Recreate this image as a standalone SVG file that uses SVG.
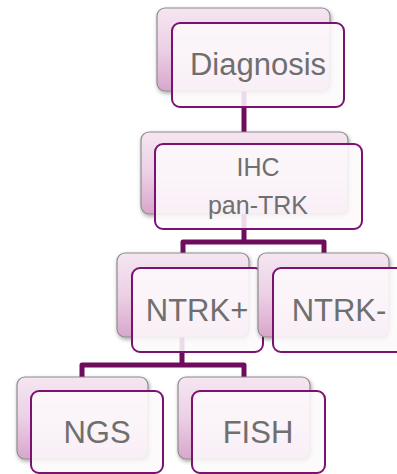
<svg xmlns="http://www.w3.org/2000/svg" width="397" height="474" viewBox="0 0 397 474">
<defs>
<linearGradient id="bg" x1="0" y1="0" x2="0" y2="1">
<stop offset="0" stop-color="#f5e6f1"/>
<stop offset="0.5" stop-color="#ecd0e5"/>
<stop offset="1" stop-color="#d8a6cc"/>
</linearGradient>
<filter id="sh" x="-10%" y="-10%" width="125%" height="130%">
<feDropShadow dx="1" dy="2" stdDeviation="2" flood-color="#000" flood-opacity="0.35"/>
</filter>
</defs>
<style>
.back{fill:url(#bg);stroke:#8c8c8c;stroke-width:1.2;filter:url(#sh)}
.front{fill:#fdf9fc;fill-opacity:0.88;stroke:#7b1170;stroke-width:2}
.t{font-family:"Liberation Sans",Arial,sans-serif;fill:#6f6f6f;text-anchor:middle}
.c{fill:none;stroke:#6e0d5c;stroke-width:5;stroke-linejoin:round}
</style>
<g id="connectors">
<path class="c" d="M244 91 V132"/>
<path class="c" d="M244 214 V242 M183 253 V242 H324 V253"/>
<path class="c" d="M182 337 V365 M82 377 V365 H244 V377"/>
</g>
<g id="diagnosis">
<rect class="back" x="157" y="8" width="173" height="83" rx="8"/>
<rect class="front" x="172" y="23" width="172" height="84" rx="8"/>
<text class="t" x="258" y="75" font-size="31">Diagnosis</text>
</g>
<g id="ihc">
<rect class="back" x="141" y="132" width="207" height="82" rx="8"/>
<rect class="front" x="155" y="144" width="207" height="85" rx="8"/>
<text class="t" x="258" y="176" font-size="25">IHC</text>
<text class="t" x="258" y="214" font-size="25">pan-TRK</text>
</g>
<g id="ntrk-pos">
<rect class="back" x="117" y="253" width="132" height="84" rx="8"/>
<rect class="front" x="132" y="268" width="131" height="84" rx="8"/>
<text class="t" x="197" y="321" font-size="31">NTRK+</text>
</g>
<g id="ntrk-neg">
<rect class="back" x="258" y="253" width="131" height="84" rx="8"/>
<rect class="front" x="273" y="268" width="131" height="84" rx="8"/>
<text class="t" x="339" y="321" font-size="31">NTRK-</text>
</g>
<g id="ngs">
<rect class="back" x="17" y="377" width="131" height="82" rx="8"/>
<rect class="front" x="31" y="391" width="132" height="82" rx="8"/>
<text class="t" x="97" y="443" font-size="31">NGS</text>
</g>
<g id="fish">
<rect class="back" x="178" y="377" width="132" height="82" rx="8"/>
<rect class="front" x="192" y="391" width="133" height="82" rx="8"/>
<text class="t" x="258" y="443" font-size="31">FISH</text>
</g>
</svg>
